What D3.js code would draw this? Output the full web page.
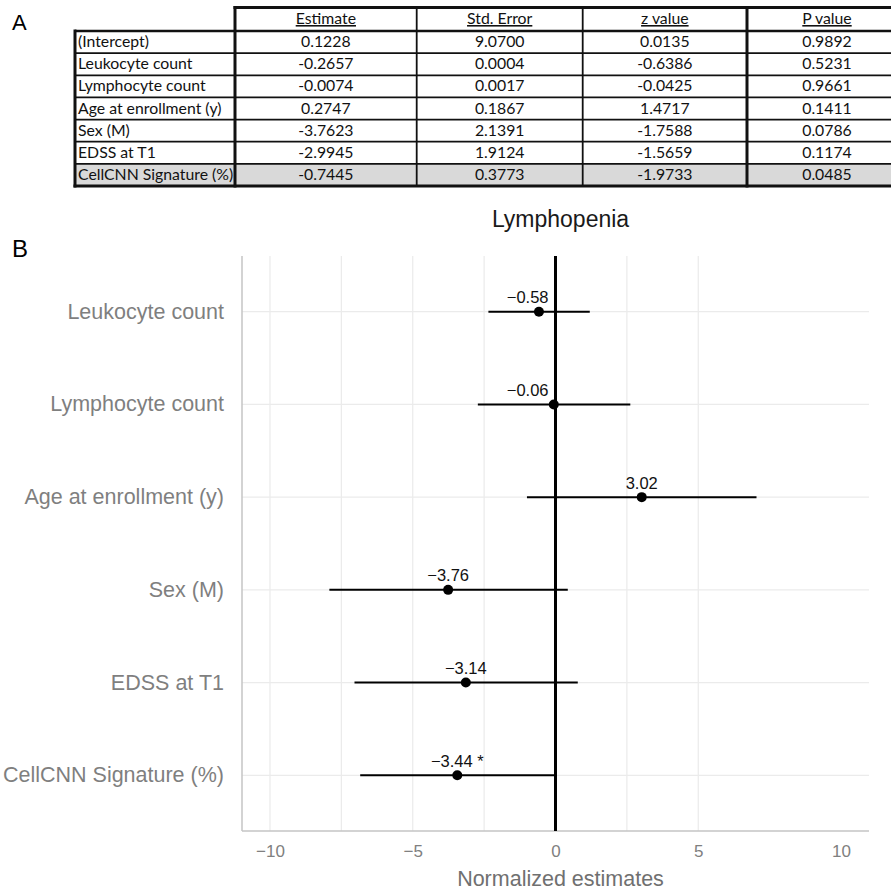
<!DOCTYPE html>
<html>
<head>
  <meta charset="utf-8">
  <title>Lymphopenia</title>
  <script src="https://d3js.org/d3.v7.min.js"></script>
  <style>
    body { margin: 0; background: #fff; }
  </style>
</head>
<body>
  <svg width="891" height="890"></svg>
  <script>
// table (panel A)
const tableHeaders = ["Estimate", "Std. Error", "z value", "P value"];
const tableRows = ["(Intercept)", "Leukocyte count", "Lymphocyte count", "Age at enrollment (y)",
  "Sex (M)", "EDSS at T1", "CellCNN Signature (%)"];
const estimateCol = ["0.1228", "-0.2657", "-0.0074", "0.2747", "-3.7623", "-2.9945", "-0.7445"];
const stdErrorCol = ["9.0700", "0.0004", "0.0017", "0.1867", "2.1391", "1.9124", "0.3773"];
const zValueCol = ["0.0135", "-0.6386", "-0.0425", "1.4717", "-1.7588", "-1.5659", "-1.9733"];
const pValueCol = ["0.9892", "0.5231", "0.9661", "0.1411", "0.0786", "0.1174", "0.0485"];

// forest plot (panel B)
const predictors = ["Leukocyte count", "Lymphocyte count", "Age at enrollment (y)",
  "Sex (M)", "EDSS at T1", "CellCNN Signature (%)"];
const estimates = [-0.58, -0.06, 3.02, -3.76, -3.14, -3.44];
const lowerCI = [-2.35, -2.72, -1.00, -7.92, -7.04, -6.84];
const upperCI = [1.20, 2.62, 7.04, 0.43, 0.78, -0.02];
const signif = ["", "", "", "", "", "*"];
const xTicks = [-10, -5, 0, 5, 10];
const xGrid = [-10, -7.5, -5, -2.5, 2.5, 5];

const svg = d3.select("svg");
const fmt = d => d3.format(".2f")(d).replace("-", "\u2212");

// ---------- panel A : table ----------
const colEdges = [75, 235, 416.7, 582.7, 747, 907];
const tableTop = 7.5, headBottom = 31, tableBottom = 186;
const rowY = d3.scaleBand().domain(d3.range(tableRows.length)).range([headBottom, tableBottom]);
const cols = [estimateCol, stdErrorCol, zValueCol, pValueCol];
const tFont = "Lato, 'Open Sans', sans-serif";
const tSize = 15.8;

const tab = svg.append("g");

// shaded last row
tab.append("rect")
  .attr("x", colEdges[0]).attr("y", rowY(tableRows.length - 1))
  .attr("width", colEdges[5] - colEdges[0]).attr("height", rowY.bandwidth())
  .attr("fill", "#d9d9d9");

// thin row lines
tab.selectAll(".rowline").data(d3.range(1, tableRows.length)).join("line")
  .attr("x1", colEdges[0]).attr("x2", colEdges[5])
  .attr("y1", i => rowY(i)).attr("y2", i => rowY(i))
  .attr("stroke", "#111").attr("stroke-width", 1.8);

// thin column lines
[2, 3].forEach(c => {
  tab.append("line")
    .attr("x1", colEdges[c]).attr("x2", colEdges[c])
    .attr("y1", tableTop).attr("y2", tableBottom)
    .attr("stroke", "#111").attr("stroke-width", 1.8);
});

// header bottom
tab.append("line")
  .attr("x1", colEdges[0]).attr("x2", colEdges[5])
  .attr("y1", headBottom).attr("y2", headBottom)
  .attr("stroke", "#111").attr("stroke-width", 2.5);

// thick outer lines
const thick = [
  [colEdges[1], tableTop, colEdges[5], tableTop],
  [colEdges[0], headBottom, colEdges[0], tableBottom],
  [colEdges[1], tableTop, colEdges[1], tableBottom],
  [colEdges[4], tableTop, colEdges[4], tableBottom],
  [colEdges[0], tableBottom, colEdges[5], tableBottom]
];
tab.selectAll(".thick").data(thick).join("line")
  .attr("x1", d => d[0]).attr("y1", d => d[1]).attr("x2", d => d[2]).attr("y2", d => d[3])
  .attr("stroke", "#111").attr("stroke-width", 3).attr("stroke-linecap", "square");

// header labels
tab.selectAll(".head").data(tableHeaders).join("text")
  .attr("x", (d, i) => (colEdges[i + 1] + colEdges[i + 2]) / 2)
  .attr("y", 24)
  .attr("text-anchor", "middle")
  .attr("font-family", tFont).attr("font-size", tSize)
  .attr("text-decoration", "underline")
  .attr("fill", "#111")
  .text(d => d);

// row labels
tab.selectAll(".rlab").data(tableRows).join("text")
  .attr("x", colEdges[0] + 3)
  .attr("y", (d, i) => rowY(i) + rowY.bandwidth() - 6)
  .attr("font-family", tFont).attr("font-size", tSize)
  .attr("fill", "#111")
  .text(d => d);

// cell values
cols.forEach((col, c) => {
  tab.selectAll(".c" + c).data(col).join("text")
    .attr("x", (colEdges[c + 1] + colEdges[c + 2]) / 2)
    .attr("y", (d, i) => rowY(i) + rowY.bandwidth() - 6)
    .attr("text-anchor", "middle")
    .attr("font-family", tFont).attr("font-size", tSize)
    .attr("fill", "#111")
    .text(d => d);
});

// panel letters
svg.append("text").attr("x", 12).attr("y", 30)
  .attr("font-family", "Arial, 'Liberation Sans', sans-serif").attr("font-size", 22)
  .text("A");
svg.append("text").attr("x", 12).attr("y", 257)
  .attr("font-family", "Arial, 'Liberation Sans', sans-serif").attr("font-size", 24)
  .text("B");

// ---------- panel B : forest plot ----------
const panel = { left: 242, right: 869, top: 256, bottom: 831 };
const font = "Arial, 'Liberation Sans', sans-serif";

const x = d3.scaleLinear().domain([-10.98, 10.98]).range([panel.left, panel.right]);
const y = d3.scalePoint().domain(predictors).range([311.7, 775.3]);

const g = svg.append("g");

// grid
g.selectAll(".vgrid").data(xGrid).join("line")
  .attr("x1", d => x(d)).attr("x2", d => x(d))
  .attr("y1", panel.top).attr("y2", panel.bottom)
  .attr("stroke", "#ebebeb").attr("stroke-width", 1.2);
g.selectAll(".hgrid").data(predictors).join("line")
  .attr("x1", panel.left).attr("x2", panel.right)
  .attr("y1", d => y(d)).attr("y2", d => y(d))
  .attr("stroke", "#ebebeb").attr("stroke-width", 1.2);

// axis lines
g.append("line").attr("x1", panel.left).attr("x2", panel.left)
  .attr("y1", panel.top).attr("y2", panel.bottom)
  .attr("stroke", "#c4c4c4").attr("stroke-width", 1.5);
g.append("line").attr("x1", panel.left).attr("x2", panel.right)
  .attr("y1", panel.bottom).attr("y2", panel.bottom)
  .attr("stroke", "#c4c4c4").attr("stroke-width", 1.5);

// zero line
g.append("line").attr("x1", x(0)).attr("x2", x(0))
  .attr("y1", panel.top).attr("y2", panel.bottom)
  .attr("stroke", "#000").attr("stroke-width", 3);

// x axis
const xAxis = g.append("g")
  .attr("transform", `translate(0,${panel.bottom})`)
  .call(d3.axisBottom(x).tickValues(xTicks).tickSize(0).tickPadding(14)
    .tickFormat(d => String(d).replace("-", "\u2212")));
xAxis.select(".domain").remove();
xAxis.selectAll("text").attr("font-family", font).attr("font-size", 17).attr("fill", "#808080");

// y axis labels
const yAxis = g.append("g")
  .attr("transform", `translate(${panel.left},0)`)
  .call(d3.axisLeft(y).tickSize(0).tickPadding(18));
yAxis.select(".domain").remove();
yAxis.selectAll("text").attr("font-family", font).attr("font-size", 21.5)
  .attr("fill", "#7f7f7f").attr("dy", "0.3em");

// error bars
g.selectAll(".ci").data(predictors).join("line")
  .attr("x1", (d, i) => x(lowerCI[i])).attr("x2", (d, i) => x(upperCI[i]))
  .attr("y1", d => y(d)).attr("y2", d => y(d))
  .attr("stroke", "#000").attr("stroke-width", 2);

// points
g.selectAll(".pt").data(predictors).join("circle")
  .attr("cx", (d, i) => x(estimates[i])).attr("cy", d => y(d))
  .attr("r", 5).attr("fill", "#000");

// value labels
g.selectAll(".val").data(predictors).join("text")
  .attr("y", d => y(d) - 8.5)
  .attr("font-family", font).attr("font-size", 16.5).attr("fill", "#111")
  .text((d, i) => fmt(estimates[i]) + (signif[i] ? " " + signif[i] : ""))
  .each(function (d, i) {
    const t = d3.select(this);
    const w = this.getComputedTextLength();
    const px = x(estimates[i]);
    if (Math.abs(px - x(0)) < w / 2 + 4) {
      t.attr("x", x(0) - 7).attr("text-anchor", "end");
    } else {
      t.attr("x", px).attr("text-anchor", "middle");
    }
  });

// title and x title
svg.append("text").attr("x", (panel.left + panel.right) / 2 + 5).attr("y", 227)
  .attr("text-anchor", "middle").attr("font-family", font).attr("font-size", 23)
  .attr("fill", "#1a1a1a").text("Lymphopenia");
svg.append("text").attr("x", (panel.left + panel.right) / 2 + 5).attr("y", 886)
  .attr("text-anchor", "middle").attr("font-family", font).attr("font-size", 21.5)
  .attr("fill", "#707070").text("Normalized estimates");
  </script>
</body>
</html>
